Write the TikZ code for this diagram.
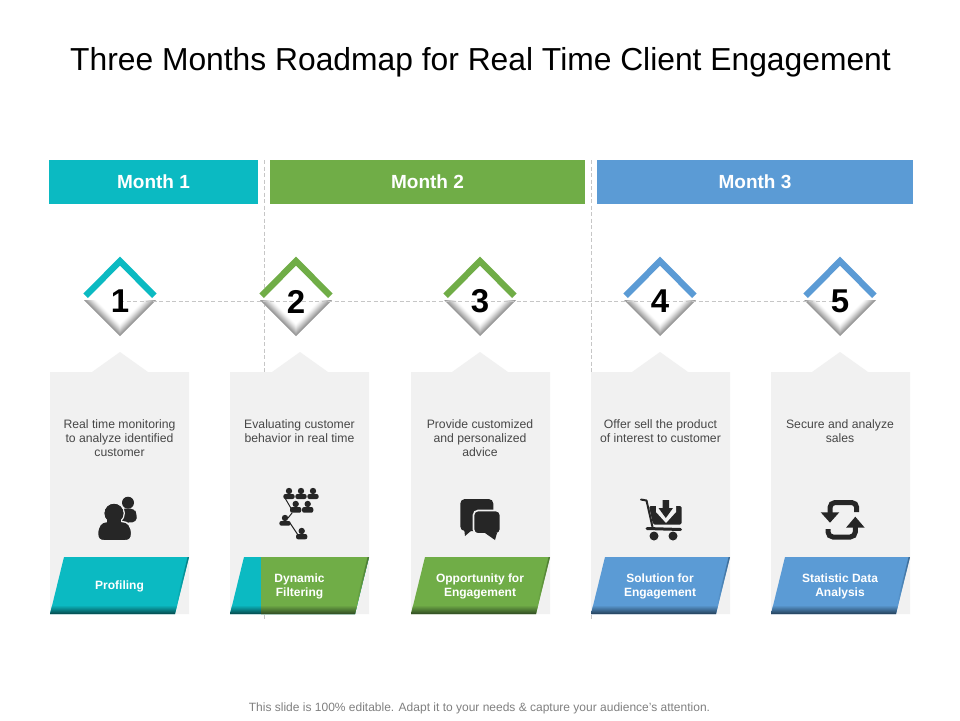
\documentclass[tikz,border=0pt]{standalone}
\usepackage{fontspec}
\setmainfont{Liberation Sans}
\definecolor{teal1}{HTML}{0BBAC2}
\definecolor{green1}{HTML}{70AD47}
\definecolor{blue1}{HTML}{5B9BD5}
\definecolor{teal2}{HTML}{05474A}
\definecolor{green2}{HTML}{2F4A22}
\definecolor{blue2}{HTML}{233F58}
\definecolor{card}{HTML}{F1F1F1}
\definecolor{ink}{HTML}{262626}
\definecolor{dashc}{HTML}{C6C6C6}
\tikzset{
  headbox/.style={fill=#1,text=white,minimum height=44pt,inner sep=0pt,font=\fontsize{19}{21}\selectfont\bfseries},
  guide/.style={draw=dashc,line width=0.8pt,dash pattern=on 4pt off 2.5pt},
  numlabel/.style={inner sep=0pt,font=\fontsize{33}{35}\selectfont\bfseries,text=black},
  cardtext/.style={inner sep=0pt,align=center,text=black!72,font=\fontsize{12.2}{14}\selectfont},
  bantext/.style={inner sep=0pt,align=center,text=white,font=\fontsize{12}{14}\selectfont\bfseries},
  iconline/.style={draw=ink,line width=#1,line cap=round,line join=round}
}
\newcommand{\cardshape}[2]{%
  \fill[card] (#1,372) -- (#2-28,372) -- (#2,352) -- (#2+28,372) -- (#1+139,372) -- (#1+139,614) -- (#1,614) -- cycle;}
\newcommand{\banner}[3]{%
  \fill[#2] (#1+14,557) -- (#1+139,557) -- (#1+125,614) -- (#1,614) -- cycle;
  \shade[top color=#2,bottom color=#3] (#1+2.2,605) -- (#1+127.2,605) -- (#1+125,614) -- (#1,614) -- cycle;
  \shade[left color=#2,right color=#3!60!#2] (#1+137.6,557) -- (#1+139,557) -- (#1+127,605) -- (#1+125.6,605) -- cycle;}
\newcommand{\diamondmark}[2]{%
  \fill[white] (#1,257) -- (#1+36,300) -- (#1,336) -- (#1-36,300) -- cycle;
  \foreach \s/\p in {36/42,35/38,34/34,33/30,32/26,31/22,30/18,29/14,28/10,27/7,26/4,25/2,24/0}{
    \fill[black!\p] (#1-\s,300) -- (#1,300+\s) -- (#1+\s,300) -- cycle;}
  \fill[#2] (#1,256.7) -- (#1+36.7,293.5) -- (#1+32.2,298) -- (#1,265.7) -- (#1-32.2,298) -- (#1-36.7,293.5) -- cycle;}
\newcommand{\minip}[3]{%
  \fill[ink] (#1,#2) circle (3.2);
  \fill[ink,rounded corners=2] (#1-5.6,#3) -- (#1-5.6,#2+3) -- (#1+5.6,#2+3) -- (#1+5.6,#3) -- cycle;}
\begin{document}
\begin{tikzpicture}[x=1pt,y=-1pt]
\useasboundingbox (0,0) rectangle (960,720);
\fill[white] (0,0) rectangle (960,720);

\coordinate (c1) at (120,301);
\coordinate (c5) at (840,301);
\coordinate (va) at (264,160);
\coordinate (vb) at (264,619);
\coordinate (wa) at (591,160);
\coordinate (wb) at (591,619);

\node[inner sep=0pt,text=black,font=\fontsize{31.8}{36}\selectfont] (title) at (480.5,62.5) {Three Months Roadmap for Real Time Client Engagement};

\draw[guide] (va) -- (vb);
\draw[guide] (wa) -- (wb);

\node[headbox=teal1,minimum width=209pt] (m1) at (153.5,182) {Month 1};
\node[headbox=green1,minimum width=315pt] (m2) at (427.5,182) {Month 2};
\node[headbox=blue1,minimum width=316pt] (m3) at (755,182) {Month 3};

\diamondmark{120}{teal1}
\diamondmark{296}{green1}
\diamondmark{480}{green1}
\diamondmark{660}{blue1}
\diamondmark{840}{blue1}
\draw[guide] (c1) -- (c5);
\node[numlabel] (n1) at (120,301.5) {1};
\node[numlabel] (n2) at (296,301.5) {2};
\node[numlabel] (n3) at (480,301.5) {3};
\node[numlabel] (n4) at (660,301.5) {4};
\node[numlabel] (n5) at (840,301.5) {5};

\cardshape{50}{120}
\cardshape{230}{300}
\cardshape{411}{480}
\cardshape{591}{660}
\cardshape{771}{840}

\node[cardtext] (t1) at (119.5,438) {Real time monitoring\\to analyze identified\\customer};
\node[cardtext] (t2) at (299.5,431) {Evaluating customer\\behavior in real time};
\node[cardtext] (t3) at (480,438) {Provide customized\\and personalized\\advice};
\node[cardtext] (t4) at (660.5,431) {Offer sell the product\\of interest to customer};
\node[cardtext] (t5) at (840,431) {Secure and analyze\\sales};

\banner{50}{teal1}{teal2}
\banner{230}{teal1}{teal2}
\fill[green1] (261,557) -- (369,557) -- (355,614) -- (261,614) -- cycle;
\shade[top color=green1,bottom color=green2] (261,605) -- (357.2,605) -- (355,614) -- (261,614) -- cycle;
\shade[left color=green1,right color=green2!60!green1] (367.6,557) -- (369,557) -- (357,605) -- (355.6,605) -- cycle;
\banner{411}{green1}{green2}
\banner{591}{blue1}{blue2}
\banner{771}{blue1}{blue2}

\node[bantext] (b1) at (119.5,586.5) {Profiling};
\node[bantext] (b2) at (299.5,586.5) {Dynamic\\Filtering};
\node[bantext] (b3) at (480,586.5) {Opportunity for\\Engagement};
\node[bantext] (b4) at (660,586.5) {Solution for\\Engagement};
\node[bantext] (b5) at (840,586.5) {Statistic Data\\Analysis};

% icon 1: people
\fill[ink] (128,502.7) circle (6);
\fill[ink,rounded corners=4] (121,508.5) -- (134,508.5) -- (137,514) -- (136.5,522) -- (121,523) -- cycle;
\fill[ink,draw=card,line width=1.4pt] (114,513.3) circle (10.2);
\fill[ink,draw=card,line width=1.4pt] (97.6,534) .. controls (97.6,526) and (101,521.5) .. (107,521.5) -- (122,521.5) .. controls (128,521.5) and (131.6,526) .. (131.6,534) .. controls (131.6,539) and (129,540.7) .. (125,540.7) -- (104,540.7) .. controls (100,540.7) and (97.6,539) .. (97.6,534) -- cycle;
\fill[ink] (114,513.3) circle (9.5);
\fill[ink] (107,520) rectangle (121,523);

% icon 2: filtered people
\draw[iconline=1pt] (285,498) -- (292,510);
\draw[iconline=1pt] (292,513) -- (288,518);
\draw[iconline=1pt] (290,523) -- (298,535);
\minip{289}{491}{499}
\minip{301}{491}{499}
\minip{313}{491}{499}
\minip{295.7}{504}{512.7}
\minip{307.7}{504}{512.7}
\minip{285}{518}{525.7}
\minip{301.7}{531}{539.3}

% icon 3: speech bubbles
\fill[ink,rounded corners=4.5] (460.3,499) -- (493.3,499) -- (493.3,531) -- (460.3,531) -- cycle;
\fill[ink] (464,528) -- (472,530) -- (465,536) -- cycle;
\fill[ink,draw=card,line width=1.6pt,rounded corners=4.5] (473.5,510.5) -- (500.5,510.5) -- (500.5,534) -- (473.5,534) -- cycle;
\fill[ink] (485,533) -- (497,533) -- (495,540) -- cycle;

% icon 4: cart
\draw[iconline=2pt] (641,499.5) -- (646.5,500.5) -- (652.5,527);
\fill[ink,rounded corners=1.5] (649,506) -- (681.5,506) -- (681.5,524.5) -- (653,524.5) -- cycle;
\draw[iconline=3pt] (647,528.5) -- (680.5,529.5);
\fill[ink] (654,536) circle (4.5);
\fill[ink] (673,536) circle (4.5);
\fill[card] (656,505) -- (676,505) -- (676,512) -- (666,523) -- (656,512) -- cycle;
\fill[ink] (662.5,500) -- (669,500) -- (669,508) -- (673,508) -- (665.8,518) -- (658.5,508) -- (662.5,508) -- cycle;

% icon 5: refresh
\draw[draw=ink,line width=5pt,rounded corners=5] (830,514) -- (830,502.5) -- (856.7,502.5) -- (856.7,512);
\fill[ink] (820.7,512.3) -- (839.3,512.3) -- (830,522.7) -- cycle;
\draw[draw=ink,line width=5pt,rounded corners=5] (855.3,526) -- (855.3,537) -- (828,537) -- (828,529);
\fill[ink] (846,527.7) -- (864.7,527.7) -- (855.3,516.7) -- cycle;

\node[inner sep=0pt,text=black!50,font=\fontsize{12}{14}\selectfont] (foot) at (479.5,708.5) {This slide is 100\% editable. Adapt it to your needs \& capture your audience's attention.};
\end{tikzpicture}
\end{document}
